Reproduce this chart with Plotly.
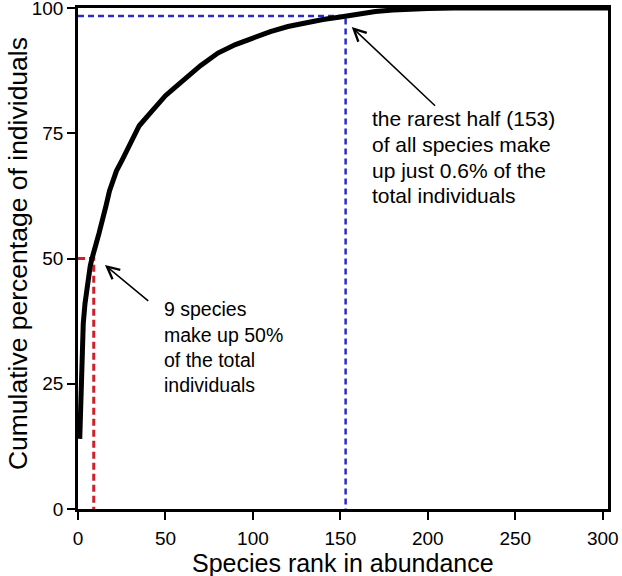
import plotly.graph_objects as go

# Cumulative percentage curve
rank = [1, 2, 3, 4, 5, 6, 7, 8, 9, 10, 12, 14, 16, 18, 20, 22, 25, 28, 30, 33, 35, 40,
        45, 50, 55, 60, 70, 80, 90, 100, 110, 120, 130, 140, 150, 160, 170, 180,
        190, 200, 215, 306]
cum_pct = [14, 30, 37, 41, 44, 46.5, 48.5, 50, 51, 52.5, 55, 57.5, 60.5, 63.5, 65.5,
           67.5, 69.5, 71.5, 73, 75, 76.5, 78.5, 80.5, 82.5, 84, 85.5, 88.5, 91, 92.7,
           94, 95.3, 96.3, 97.1, 97.7, 98.2, 98.8, 99.3, 99.6, 99.8, 99.9, 100, 100]

half_rank = 9
half_pct = 50
rare_rank = 153
rare_pct = 98.4

x_ticks = [0, 50, 100, 150, 200, 250, 300]
y_ticks = [0, 25, 50, 75, 100]

x_title = "Species rank in abundance"
y_title = "Cumulative percentage of individuals"
note1_lines = ["9 species", "make up 50%", "of the total", "individuals"]
note2_lines = ["the rarest half (153)", "of all species make", "up just 0.6% of the",
               "total individuals"]

FONT = "Liberation Sans, Arial, sans-serif"

fig = go.Figure()
fig.add_trace(go.Scatter(x=[0, half_rank, half_rank], y=[half_pct, half_pct, 0],
                         mode="lines", line=dict(color="#d0202c", width=3, dash="7px,4px"),
                         hoverinfo="skip"))
fig.add_trace(go.Scatter(x=[0, rare_rank, rare_rank], y=[rare_pct, rare_pct, 0],
                         mode="lines", line=dict(color="#2b2bc9", width=2.5, dash="6px,4px"),
                         hoverinfo="skip"))
fig.add_trace(go.Scatter(x=rank, y=cum_pct, mode="lines",
                         line=dict(color="black", width=5), hoverinfo="skip"))

fig.add_annotation(x=15.4, y=48.7, ax=41, ay=41.3, xref="x", yref="y", axref="x", ayref="y",
                   showarrow=True, arrowhead=5, arrowsize=1.6, arrowwidth=1.5,
                   arrowcolor="black", text="")
fig.add_annotation(x=156.5, y=96.2, ax=205, ay=80.2, xref="x", yref="y", axref="x", ayref="y",
                   showarrow=True, arrowhead=5, arrowsize=1.6, arrowwidth=1.5,
                   arrowcolor="black", text="")

# note text, one annotation per line
note1_y = [39.9, 34.7, 29.7, 24.8]
for line, yy in zip(note1_lines, note1_y):
    fig.add_annotation(x=48.2, y=yy, xref="x", yref="y", text=line, showarrow=False,
                       xanchor="left", yanchor="middle", align="left",
                       font=dict(family=FONT, size=19.5, color="black"))
note2_y = [77.9, 72.8, 67.6, 62.6]
for line, yy in zip(note2_lines, note2_y):
    fig.add_annotation(x=167.2, y=yy, xref="x", yref="y", text=line, showarrow=False,
                       xanchor="left", yanchor="middle", align="left",
                       font=dict(family=FONT, size=21, color="black"))

# axis titles
fig.add_annotation(x=0.5, y=-0.107, xref="paper", yref="paper", text=x_title,
                   showarrow=False, xanchor="center", yanchor="middle",
                   font=dict(family=FONT, size=25, color="black"))
fig.add_annotation(x=-0.113, y=0.509, xref="paper", yref="paper", text=y_title,
                   showarrow=False, xanchor="center", yanchor="middle", textangle=-90,
                   font=dict(family=FONT, size=26.5, color="black"))

axis_common = dict(showgrid=False, zeroline=False, showline=True, linecolor="black",
                   linewidth=2.5, mirror=True, ticks="outside", ticklen=8, tickwidth=2,
                   tickcolor="black", automargin=False, ticklabeloverflow="allow",
                   tickfont=dict(family=FONT, size=19, color="black"))
fig.update_xaxes(range=[0, 303], tickvals=x_ticks, ticklabelstandoff=2, **axis_common)
fig.update_yaxes(range=[0, 100], tickvals=y_ticks, **axis_common)

fig.update_layout(width=622, height=576, margin=dict(l=78, r=14, t=8, b=67),
                  plot_bgcolor="white", paper_bgcolor="white", showlegend=False,
                  font=dict(family=FONT))
fig.write_html("out.html", config={"displayModeBar": False},
               post_script="document.body.style.margin='0';")
